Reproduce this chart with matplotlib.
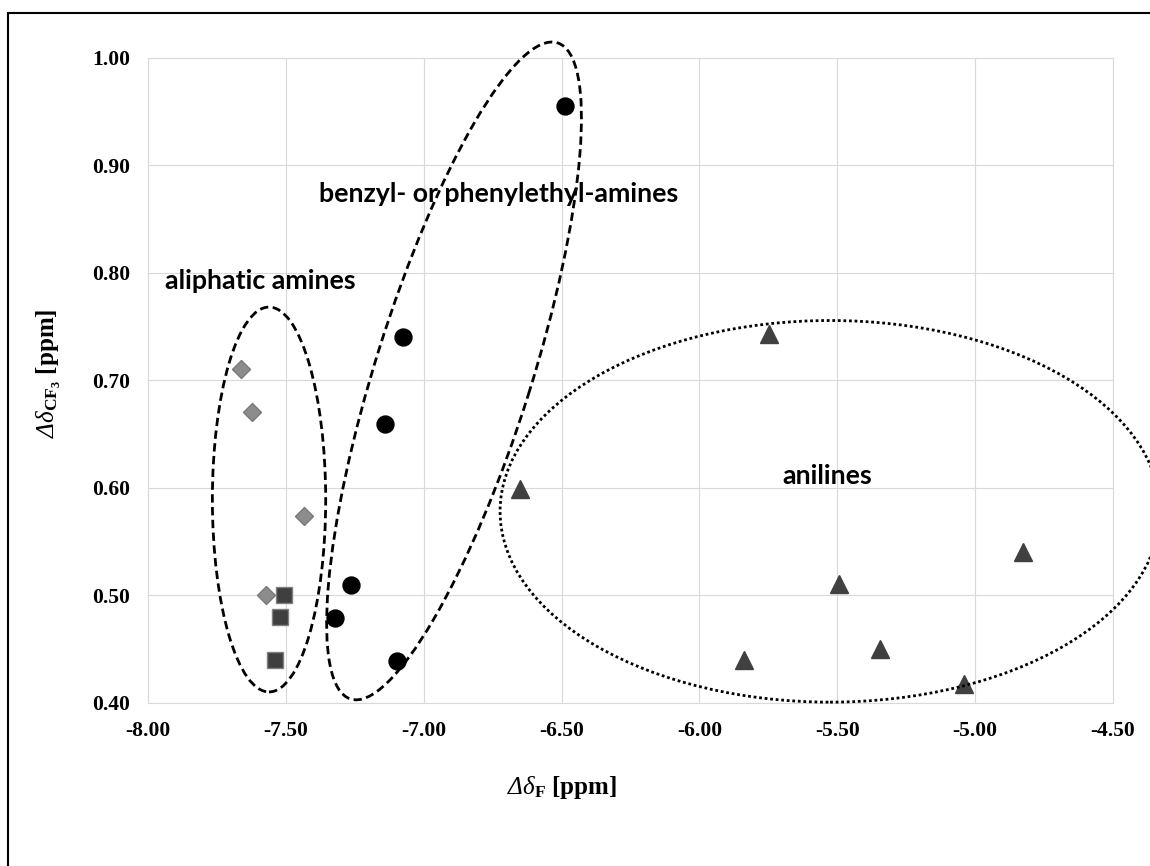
import matplotlib
matplotlib.use("Agg")
import matplotlib.pyplot as plt
from matplotlib.patches import Ellipse, Rectangle
from matplotlib.transforms import Affine2D

# aliphatic amines (diamonds)
aliph_x = [-7.664, -7.622, -7.433, -7.571]
aliph_y = [0.710, 0.670, 0.574, 0.500]
# aliphatic amines, second set (squares)
aliph2_x = [-7.508, -7.520, -7.538]
aliph2_y = [0.500, 0.480, 0.440]
# benzyl- or phenylethyl-amines (circles)
benz_x = [-6.488, -7.074, -7.142, -7.264, -7.320, -7.098]
benz_y = [0.955, 0.740, 0.659, 0.509, 0.479, 0.439]
# anilines (triangles)
anil_x = [-6.651, -5.748, -4.825, -5.494, -5.344, -5.839, -5.041]
anil_y = [0.599, 0.743, 0.540, 0.510, 0.450, 0.440, 0.417]

xticks = [-8.0, -7.5, -7.0, -6.5, -6.0, -5.5, -5.0, -4.5]
yticks = [0.4, 0.5, 0.6, 0.7, 0.8, 0.9, 1.0]

plt.rcParams['axes.unicode_minus'] = False
# mathtext draws capital greek with the "rm" font, so make that italic too
plt.rcParams['mathtext.fontset'] = 'custom'
plt.rcParams['mathtext.rm'] = 'Liberation Serif:italic'
plt.rcParams['mathtext.it'] = 'Liberation Serif:italic'
plt.rcParams['mathtext.bf'] = 'Liberation Serif:bold'

fig = plt.figure(figsize=(11.5, 8.66), dpi=100)
ax = fig.add_axes([0.1287, 0.1886, 0.8391, 0.7448])

ax.plot(aliph_x, aliph_y, 'D', ms=8.8, mfc='#8c8c8c', mec='#7a7a7a', mew=1, zorder=3)
ax.plot(aliph2_x, aliph2_y, 's', ms=11, mfc='#3f3f3f', mec='#808080', mew=1, zorder=3)
ax.plot(benz_x, benz_y, 'o', ms=12.2, mfc='black', mec='black', zorder=3)
ax.plot(anil_x, anil_y, '^', ms=12.8, mfc='#404040', mec='#404040', zorder=3)

ax.set_xlim(-8.0, -4.5)
ax.set_ylim(0.4, 1.0)
ax.set_xticks(xticks)
ax.set_yticks(yticks)
ax.set_xticklabels(['%.2f' % v for v in xticks])
ax.set_yticklabels(['%.2f' % v for v in yticks])
ax.tick_params(length=0, labelsize=15.5, pad=13)
for lab in ax.get_xticklabels() + ax.get_yticklabels():
    lab.set_fontfamily('Liberation Serif')
    lab.set_fontweight('bold')
ax.grid(True, color='#d9d9d9', lw=0.8)
ax.set_axisbelow(True)
for sp in ax.spines.values():
    sp.set_color('#d9d9d9')
    sp.set_linewidth(0.8)

# group outlines
ax.add_patch(Ellipse((-7.561, 0.589), 0.411, 0.358, fill=False, ec='black',
                     lw=2, ls=(0, (3, 1.6)), zorder=5, clip_on=False))
ax.add_patch(Ellipse((-5.526, 0.578), 2.394, 0.355, fill=False, ec='black',
                     lw=2, ls=(0, (1, 1)), zorder=5, clip_on=False))
# tilted ellipse, sized in pixels then mapped to data units
sx = ax.bbox.width / 3.5
sy = ax.bbox.height / 0.6
tr = Affine2D().scale(1 / sx, 1 / sy).translate(-6.890, 0.7086) + ax.transData
ax.add_patch(Ellipse((0, 0), 688, 156, angle=72.5, fill=False, ec='black',
                     lw=2, ls=(0, (3, 1.6)), zorder=5, clip_on=False, transform=tr))

lbl = dict(fontfamily='Lato', fontweight='bold', fontsize=19.3, ha='center', va='center', zorder=4)
ax.text(-7.594, 0.792, 'aliphatic amines', **lbl)
ax.text(-6.727, 0.873, 'benzyl- or phenylethyl-amines', **lbl)
ax.text(-5.537, 0.611, 'anilines', **lbl)

ax.text(0.429, -0.131, r'$Δδ_{\mathbf{F}}$ [ppm]', transform=ax.transAxes,
        fontfamily='Liberation Serif', fontweight='bold', fontsize=18, ha='center', va='center')
ax.text(-0.103, 0.51, r'$Δδ_{\mathbf{CF_3}}$ [ppm]', transform=ax.transAxes,
        rotation=90, fontfamily='Liberation Serif', fontweight='bold', fontsize=18,
        ha='center', va='center')

# outer frame (cut off at right and bottom)
fig.add_artist(Rectangle((8 / 1150, -0.1), 1.2, 1.1 - 13 / 866, fill=False,
                         ec='black', lw=1.5, transform=fig.transFigure))

fig.savefig('out.png', dpi=100)
